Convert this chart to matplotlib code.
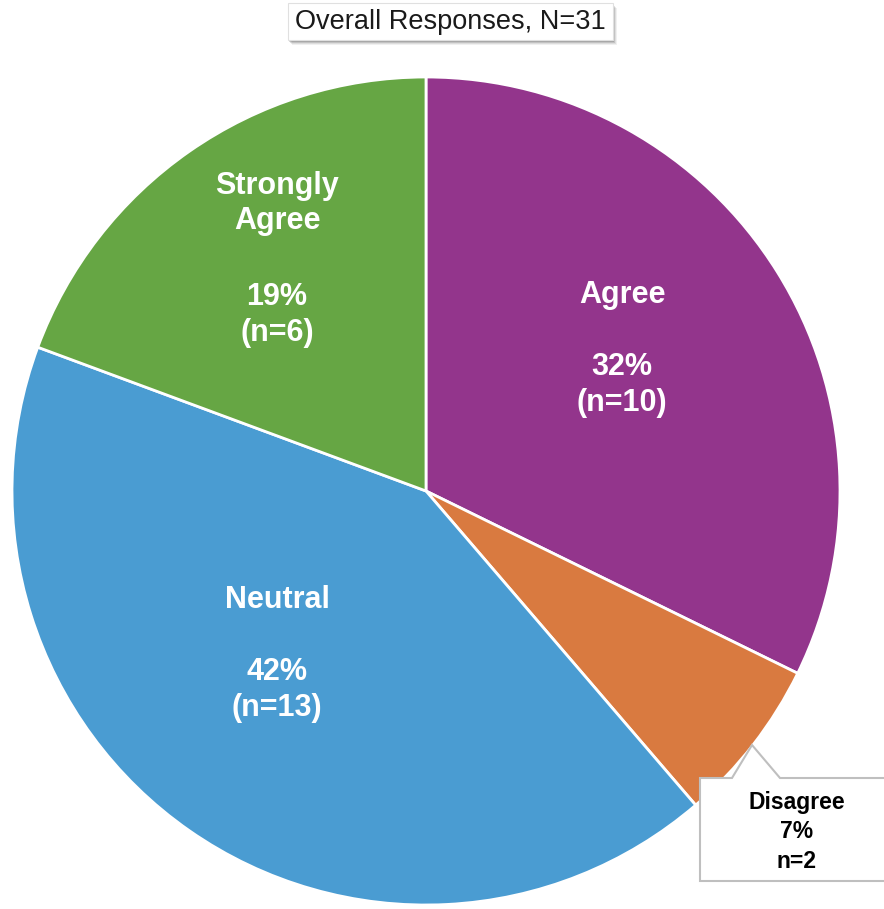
import matplotlib
matplotlib.use("Agg")
import matplotlib.pyplot as plt
from matplotlib.patches import Polygon, Rectangle

plt.rcParams['font.family'] = ['Liberation Sans', 'DejaVu Sans']

categories = ["Agree", "Disagree", "Neutral", "Strongly\nAgree"]
counts = [10, 2, 13, 6]
percents = ["32%", "7%", "42%", "19%"]
colors = ["#93358C", "#D97A40", "#4A9CD2", "#66A644"]
title = "Overall Responses, N=31"

W, H = 884, 909
fig = plt.figure(figsize=(W / 100, H / 100), dpi=100)
ax = fig.add_axes([0, 0, 1, 1])

cx, cy, r = 426, H - 491, 414
ax.pie(counts, colors=colors, startangle=90, counterclock=False,
       center=(cx, cy), radius=r,
       wedgeprops=dict(edgecolor="white", linewidth=2))
ax.set_xlim(0, W)
ax.set_ylim(0, H)
ax.set_aspect("equal")
ax.axis("off")

FS = 22
# in-slice labels: (x, y of first name line) in pixels
label_pos = {0: (622, 295, 367), 2: (277, 600, 672), 3: (277, 186, 297)}
for i, (x, y, yp) in label_pos.items():
    for j, line in enumerate(categories[i].split("\n")):
        ax.text(x, H - (y + 35 * j), line, ha="center", va="center",
                fontsize=FS, fontweight="bold", color="white")
    ax.text(x, H - yp, percents[i], ha="center", va="center",
            fontsize=FS, fontweight="bold", color="white")
    ax.text(x, H - (yp + 36), f"(n={counts[i]})", ha="center", va="center",
            fontsize=FS, fontweight="bold", color="white")

# Callout for Disagree
pts = [(700, 778), (732, 778), (752, 745), (780, 778), (890, 778),
       (890, 881), (700, 881)]
ax.add_patch(Polygon([(x, H - y) for x, y in pts], closed=True,
                     facecolor="white", edgecolor="#BFBFBF", linewidth=1.5,
                     zorder=5))
for k, s in enumerate([categories[1], percents[1], f"n={counts[1]}"]):
    ax.text(797, H - (803 + 29 * k), s, ha="center", va="center",
            fontsize=16.5, fontweight="bold", color="black", zorder=6)

# Title box with soft shadow
bx0, by0, bx1, by1 = 288, 3, 613, 40
for k, a in [(5, 0.06), (4, 0.08), (3, 0.12), (2, 0.15)]:
    ax.add_patch(Rectangle((bx0 + k - 1, H - by1 - k), bx1 - bx0, by1 - by0,
                           facecolor="black", alpha=a, edgecolor="none", zorder=7))
ax.add_patch(Rectangle((bx0, H - by1), bx1 - bx0, by1 - by0,
                       facecolor="white", edgecolor="#E0E0E0", linewidth=0.8, zorder=8))
ax.text((bx0 + bx1) / 2, H - 22, title, ha="center", va="center",
        fontsize=19.5, color="#1A1A1A", zorder=9)

fig.savefig("out.png", dpi=100)
